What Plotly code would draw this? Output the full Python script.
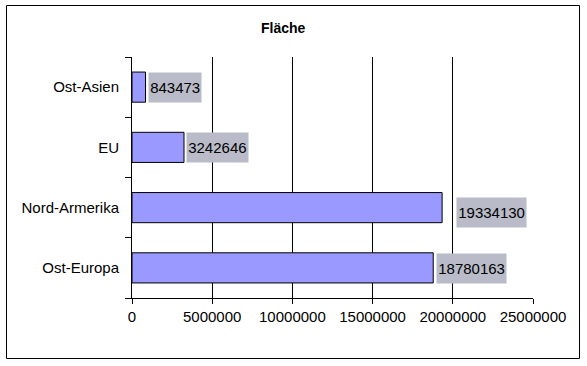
import plotly.graph_objects as go

categories = ["Ost-Asien", "EU", "Nord-Armerika", "Ost-Europa"]
values = [843473, 3242646, 19334130, 18780163]
tick_vals = [0, 5000000, 10000000, 15000000, 20000000, 25000000]
tick_text = ["0", "5000000", "10000000", "15000000", "20000000", "25000000"]
label_xshift = [2, 2, 14, 3]
label_yshift = [0, 0, -5, -1]

FONT = "Liberation Sans, Arial, sans-serif"
W, H = 587, 366
L, R, T, B = 132, 54, 57, 68
pw, ph = W - L - R, H - T - B

fig = go.Figure(go.Bar(
    y=categories, x=values, orientation="h",
    marker=dict(color="#9999FF", line=dict(color="black", width=1)),
    width=0.5,
))

for c, v, xs, ys in zip(categories, values, label_xshift, label_yshift):
    txt = str(v)
    fig.add_annotation(
        x=v, y=c, xref="x", yref="y", text=txt, showarrow=False,
        xanchor="left", yanchor="middle", xshift=xs, yshift=ys,
        width=8.4 * len(txt) + 2, height=29, align="center", valign="middle",
        bgcolor="#b9bcc8", borderpad=0,
        font=dict(family=FONT, size=15, color="black"),
    )

def px2paper_x(px):
    return (px - L) / pw

def px2paper_y(py):
    return (H - B - py) / ph

fig.add_shape(type="rect", xref="paper", yref="paper",
              x0=px2paper_x(6.5), x1=px2paper_x(579.5),
              y0=px2paper_y(358.5), y1=px2paper_y(5.5),
              line=dict(color="black", width=1), layer="below")

fig.add_annotation(text="<b>Fläche</b>", xref="paper", yref="paper",
                   x=px2paper_x(283), y=px2paper_y(28), showarrow=False,
                   xanchor="center", yanchor="middle",
                   font=dict(family=FONT, size=14, color="black"))

fig.update_layout(
    width=W, height=H, margin=dict(l=L, r=R, t=T, b=B, pad=0),
    paper_bgcolor="white", plot_bgcolor="white", showlegend=False,
    font=dict(family=FONT, size=15, color="black"),
    xaxis=dict(range=[0, 25000000], tickvals=tick_vals, ticktext=tick_text,
               showgrid=True, gridcolor="black", gridwidth=1,
               zeroline=False, showline=True, linecolor="black", linewidth=1,
               ticks="outside", ticklen=5, tickcolor="black",
               tickfont=dict(size=15), fixedrange=True),
    yaxis=dict(categoryorder="array", categoryarray=categories[::-1],
               showgrid=False, zeroline=False, showline=True,
               linecolor="black", linewidth=1,
               ticks="outside", ticklen=6, tickcolor="black",
               tickson="boundaries", tickfont=dict(size=15),
               ticklabelstandoff=9),
)

fig.write_html("out.html")
